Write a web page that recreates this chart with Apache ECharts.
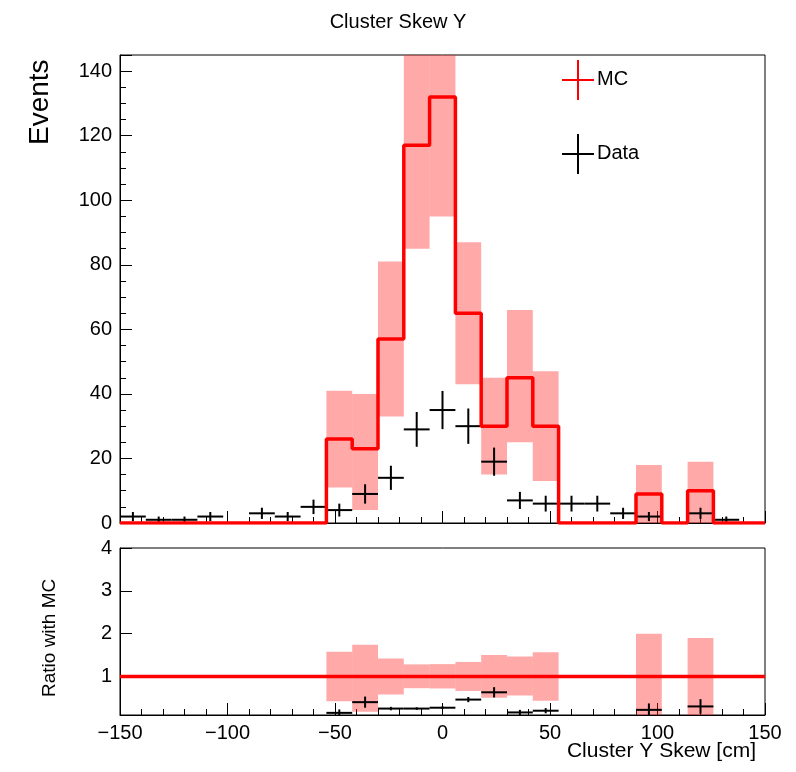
<!DOCTYPE html>
<html><head><meta charset="utf-8">
<script src="https://cdn.jsdelivr.net/npm/echarts@6/dist/echarts.min.js"></script>
<style>html,body{margin:0;padding:0;background:#fff}#c{width:796px;height:772px}</style>
</head><body><div id="c"></div>
<script>
const binEdges = [-150,-138,-126,-114,-102,-90,-78,-66,-54,-42,-30,-18,-6,6,18,30,42,54,66,78,90,102,114,126,138,150];
const mcValues = [0,0,0,0,0,0,0,0,26,23,57,117,132,65,30,45,30,0,0,0,9,0,10,0,0];
const mcLow  = [0,0,0,0,0,0,0,0,11,4,33,85,95,43,15,25,13,0,0,0,0,0,0,0,0];
const mcHigh = [0,0,0,0,0,0,0,0,41,40,81,150,170,87,45,66,47,0,0,0,18,0,19,0,0];
const dataX = [-144,-132,-120,-108,-84,-72,-60,-48,-36,-24,-12,0,12,24,36,48,60,72,84,96,120,132];
const dataY = [2,1,1,2,3,2,5,4,9,14,29,35,30,19,7,6,6,6,3,2,3,1];
const ratioX = [-48,-36,-24,-12,0,12,24,36,48,96,120];
const ratioY = [0.15,0.4,0.25,0.25,0.27,0.46,0.63,0.16,0.2,0.22,0.3];
const ratioErr = [0.08,0.13,0.04,0.03,0.03,0.06,0.12,0.06,0.06,0.15,0.17];

const font = 'Liberation Sans, Arial, sans-serif';
const stepData = binEdges.map((e,i)=>[e, i<mcValues.length?mcValues[i]:mcValues[mcValues.length-1]]);
const bandTop = [], bandRatio = [];
for (let i=0;i<mcValues.length;i++){
  if (mcValues[i]>0){
    bandTop.push([binEdges[i],binEdges[i+1],mcLow[i],mcHigh[i]]);
    bandRatio.push([binEdges[i],binEdges[i+1],mcLow[i]/mcValues[i],mcHigh[i]/mcValues[i]]);
  }
}
const dataPts = dataX.map((x,i)=>[x,dataY[i],Math.sqrt(dataY[i])]);
const ratioPts = ratioX.map((x,i)=>[x,ratioY[i],ratioErr[i]]);

function bandRender(p,api){
  const a=api.coord([api.value(0),api.value(3)]), b=api.coord([api.value(1),api.value(2)]);
  return {type:'rect',shape:{x:a[0],y:a[1],width:b[0]-a[0],height:b[1]-a[1]},style:{fill:'rgba(255,40,40,0.4)'}};
}
function errRender(p,api){
  const x=api.value(0),y=api.value(1),e=api.value(2);
  const l=api.coord([x-6,y]), r=api.coord([x+6,y]), t=api.coord([x,y+e]), b=api.coord([x,y-e]);
  const st={stroke:'#000',lineWidth:2};
  return {type:'group',children:[
    {type:'line',shape:{x1:l[0],y1:l[1],x2:r[0],y2:r[1]},style:st},
    {type:'line',shape:{x1:t[0],y1:t[1],x2:b[0],y2:b[1]},style:st}]};
}
const xBase = {type:'value',min:-150,max:150,interval:50,
  axisLine:{onZero:false,lineStyle:{color:'#000'}},axisTick:{inside:true,length:12,lineStyle:{color:'#000'}},
  minorTick:{show:true,splitNumber:5,length:6,lineStyle:{color:'#000'}},splitLine:{show:false}};
const chart = echarts.init(document.getElementById('c'));
chart.setOption({
  animation:false,
  title:{text:'Cluster Skew Y',left:'center',top:7,textStyle:{fontFamily:font,fontWeight:'normal',fontSize:20,color:'#000'}},
  grid:[{left:120,right:31,top:55,height:468,show:true,borderColor:'#000',borderWidth:1,outerBoundsMode:'none',containLabel:false},
        {left:120,right:31,top:548,height:167,show:true,borderColor:'#000',borderWidth:1,outerBoundsMode:'none',containLabel:false}],
  xAxis:[Object.assign({gridIndex:0,axisLabel:{show:false}},xBase),
         Object.assign({gridIndex:1,axisLabel:{fontFamily:font,fontSize:20,color:'#000',formatter:v=>String(v).replace('-','\u2212')}},xBase)],
  yAxis:[{gridIndex:0,type:'value',min:0,max:145,interval:20,
    axisLine:{onZero:false,lineStyle:{color:'#000'}},axisTick:{inside:true,length:12,lineStyle:{color:'#000'}},
    minorTick:{show:true,splitNumber:4,length:6,lineStyle:{color:'#000'}},splitLine:{show:false},
    axisLabel:{fontFamily:font,fontSize:20,color:'#000',margin:8}},
   {gridIndex:1,type:'value',min:0.1,max:4,
    axisLine:{onZero:false,lineStyle:{color:'#000'}},
    axisTick:{inside:true,length:12,customValues:[1,2,3,4],lineStyle:{color:'#000'}},
    axisLabel:{fontFamily:font,fontSize:20,color:'#000',customValues:[1,2,3,4],margin:8},splitLine:{show:false}}],
  series:[
    {type:'custom',xAxisIndex:0,yAxisIndex:0,data:bandTop,renderItem:bandRender,clip:true,silent:true},
    {type:'line',xAxisIndex:0,yAxisIndex:0,data:stepData,step:'end',symbol:'none',
      lineStyle:{color:'#ff0000',width:3.5},clip:true,silent:true},
    {type:'custom',xAxisIndex:0,yAxisIndex:0,data:dataPts,renderItem:errRender,clip:true,silent:true},
    {type:'custom',xAxisIndex:1,yAxisIndex:1,data:bandRatio,renderItem:bandRender,clip:true,silent:true},
    {type:'line',xAxisIndex:1,yAxisIndex:1,data:[[-150,1],[150,1]],symbol:'none',
      lineStyle:{color:'#ff0000',width:3.5},silent:true},
    {type:'custom',xAxisIndex:1,yAxisIndex:1,data:ratioPts,renderItem:errRender,clip:true,silent:true}
  ],
  graphic:[
    {type:'text',x:26,y:145,rotation:Math.PI/2,style:{text:'Events',font:'28px '+font,fill:'#000',align:'left',verticalAlign:'top'}},
    {type:'text',x:40,y:697,rotation:Math.PI/2,style:{text:'Ratio with MC',font:'19px '+font,fill:'#000',align:'left',verticalAlign:'top'}},
    {type:'text',x:756,y:741,style:{text:'Cluster Y Skew [cm]',font:'21px '+font,fill:'#000',align:'right',verticalAlign:'top'}},
    {type:'line',shape:{x1:562,y1:80,x2:594,y2:80},style:{stroke:'#ff0000',lineWidth:2}},
    {type:'line',shape:{x1:578,y1:60,x2:578,y2:100},style:{stroke:'#ff0000',lineWidth:2}},
    {type:'text',left:597,top:69,style:{text:'MC',font:'20px '+font,fill:'#000'}},
    {type:'line',shape:{x1:562,y1:154,x2:594,y2:154},style:{stroke:'#000',lineWidth:2}},
    {type:'line',shape:{x1:578,y1:134,x2:578,y2:174},style:{stroke:'#000',lineWidth:2}},
    {type:'text',left:597,top:143,style:{text:'Data',font:'20px '+font,fill:'#000'}}
  ]
});
</script></body></html>
